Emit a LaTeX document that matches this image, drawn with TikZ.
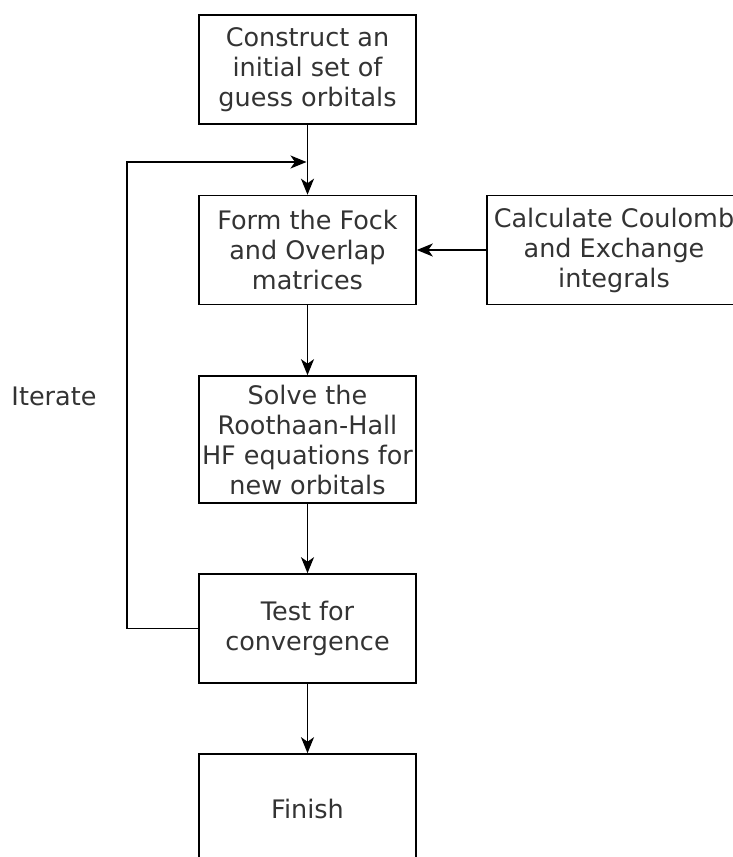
\documentclass[tikz,border=0pt]{standalone}
\usepackage{fontspec}
\setmainfont{DejaVu Sans}
\usetikzlibrary{arrows.meta}
\definecolor{FlowLine}{HTML}{000000}
\definecolor{FlowText}{HTML}{333333}

\begin{document}
\begin{tikzpicture}[
  x=1pt,y=-1pt,
  >=Stealth,
  stepbox/.style={draw=FlowLine,line width=1.6pt,text=FlowText,align=center,
    minimum width=217pt,minimum height=109pt,inner sep=0pt,
    font=\fontsize{25.5}{30}\selectfont},
  steparrow/.style={draw=FlowLine,line width=1.6pt,
    -{Stealth[length=16pt,width=13pt,inset=4.5pt]}},
  sidelabel/.style={text=FlowText,font=\fontsize{25.5}{30}\selectfont}
]
  % Page frame (the right and bottom boxes run off the page).
  \useasboundingbox (0,0) rectangle (733,857);
  \clip (0,0) rectangle (733,857);

  % Steps of the self-consistent field cycle.
  \node[stepbox] (init)   at (307.5, 69.5) {Construct an\\initial set of\\guess orbitals};
  \node[stepbox] (fock)   at (307.5,250.0) {Form the Fock\\and Overlap\\matrices};
  \node[stepbox,minimum width=254pt] (calc) at (614.0,250.0)
    {Calculate Coulomb\\and Exchange\\integrals};
  \node[stepbox,minimum height=127pt] (solve) at (307.5,439.5)
    {Solve the\\Roothaan-Hall\\HF equations for\\new orbitals};
  \node[stepbox] (test)   at (307.5,628.5) {Test for\\convergence};
  \node[stepbox] (finish) at (307.5,808.5) {Finish};

  % Main flow.
  \draw[steparrow] (init) -- (fock);
  \draw[steparrow] (calc) -- (fock);
  \draw[steparrow] (fock) -- (solve);
  \draw[steparrow] (solve) -- (test);
  \draw[steparrow] (test) -- (finish);

  % Feedback loop back into the Fock build.
  \coordinate (loopcorner) at (127,162);
  \coordinate (merge) at (306.5,162);
  \draw[steparrow] (test.west) -| (loopcorner) -- (merge);
  \node[sidelabel] (iterlabel) at (54,396) {Iterate};
\end{tikzpicture}
\end{document}
